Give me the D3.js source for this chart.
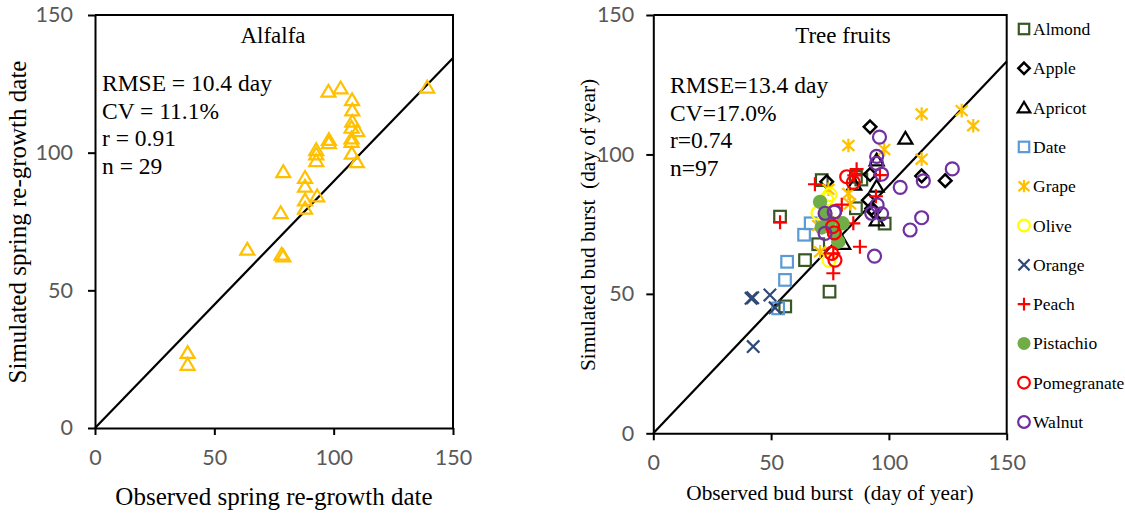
<!DOCTYPE html>
<html>
<head>
<meta charset="utf-8">
<script src="https://cdn.jsdelivr.net/npm/d3@7"></script>
<style>
  body { margin: 0; background: #fff; }
  svg { display: block; }
</style>
</head>
<body>
<svg id="chart" width="1125" height="514"></svg>
<script>
// ---- data --------------------------------------------------------------
const tickValues = [0, 50, 100, 150];

// Alfalfa: [observed, simulated] spring re-growth day
const alfalfa = [
  [97.8,122.3],[102.9,123.5],[139.2,123.8],[107.7,119.2],[107.8,115.5],
  [107.8,111.4],[107.5,109.2],[109.9,108],[107.5,105.3],[107.5,104.1],
  [107.6,99.8],[109.7,96.7],[98,104.8],[98,103.6],[92.7,101.1],
  [92.7,99.5],[92.7,97.1],[78.9,93.1],[88,91],[88,87.8],
  [88,82.8],[88,79.8],[93.1,84.3],[77.8,78.2],[63.8,64.9],
  [78.2,63.1],[78.9,62.5],[38.8,27.4],[38.8,23.1]
];
const alfalfaStats = ["RMSE = 10.4 day", "CV = 11.1%", "r = 0.91", "n = 29"];
const alfalfaLine = [[0, 0], [150, 134.4]];

// Tree fruits: [observed, simulated] bud burst day of year
const fruitNames = ["Almond","Apple","Apricot","Date","Grape","Olive","Orange","Peach","Pistachio","Pomegranate","Walnut"];
const almond = [[53.8,77.7],[71.5,90.8],[86,80.7],[86,92],[88.3,91],[98.2,75.2],[70,67.8],[64.4,62.1],[74.8,50.8],[56,45.5]];
const apple = [[92,109.9],[73.6,90.2],[92,92.8],[113.9,92.3],[123.9,90.6],[91.3,83.6],[92.7,80.6],[93.5,79.5]];
const apricot = [[107,105.8],[94.8,98],[85.3,89.3],[94.8,88.6],[94.8,76.5],[80.6,68.1]];
const date = [[66.8,75.3],[64,71.2],[56.8,61.5],[55.9,55],[53,44.8]];
const grape = [[82.8,103.2],[113.9,114.5],[130.9,115.7],[135.8,110.3],[113.9,98.3],[98,101.8],[74.3,87.5],[82.8,86],[83.5,82.3],[70.8,65.1],[70,74.5]];
const olive = [[75,85.6],[73.5,84],[69.9,79],[74.6,62]];
const orange = [[41.5,48.4],[42.2,48.6],[49.5,49.6],[51.7,45],[42.4,31.1]];
const peach = [[53.8,75.7],[68.6,89.3],[86.3,94.7],[85.3,92.5],[96.2,92.6],[94.5,85],[84.9,75.3],[87.7,66.9],[76.4,57.4],[80,82],[76.4,64.5]];
const pistachio = [[70.8,83],[72.9,78.6],[80.3,75.3],[71.5,73.8],[77.1,71.7],[78.5,68.7],[74.5,76]];
const pomegranate = [[82.1,92],[84.9,90],[77,79.5],[76.1,74.1],[76.8,71.9],[75.7,64.5],[77.1,62.1]];
const walnut = [[96,106.2],[94.8,99.3],[94.8,96.8],[96.9,92.9],[104.8,88.2],[114.6,90.5],[126.9,94.8],[95,81.9],[92.7,78.9],[96.9,78.7],[113.9,77.3],[109,72.9],[93.9,63.5],[72.9,78.9],[76.8,79.3],[72.9,71.7]];
const fruitSeries = [almond, apple, apricot, date, grape, olive, orange, peach, pistachio, pomegranate, walnut];
const fruitStats = ["RMSE=13.4 day", "CV=17.0%", "r=0.74", "n=97"];
const fruitLine = [[0, 0], [150, 133.3]];

// ---- styling -----------------------------------------------------------
const SERIF = "'Liberation Serif','Times New Roman',serif";
const SANS = "Lato,'Open Sans',sans-serif";
const fruitStyle = {
  Almond:      { shape: "square",   color: "#385723" },
  Apple:       { shape: "diamond",  color: "#000000" },
  Apricot:     { shape: "triangle", color: "#000000" },
  Date:        { shape: "square",   color: "#5B9BD5" },
  Grape:       { shape: "star",     color: "#FFC000" },
  Olive:       { shape: "circle",   color: "#FFFF00" },
  Orange:      { shape: "cross",    color: "#2F4A78" },
  Peach:       { shape: "plus",     color: "#FF0000" },
  Pistachio:   { shape: "dot",      color: "#70AD47" },
  Pomegranate: { shape: "circle",   color: "#FF0000" },
  Walnut:      { shape: "circle",   color: "#7030A0" }
};

const svg = d3.select("#chart");

// draw one marker glyph centred on (0,0) inside group g
function marker(g, shape, color, k) {
  const sw = 2.2;
  switch (shape) {
    case "square":
      g.append("rect").attr("x", -5.8 * k).attr("y", -5.8 * k)
        .attr("width", 11.6 * k).attr("height", 11.6 * k)
        .attr("fill", "none").attr("stroke", color).attr("stroke-width", sw);
      break;
    case "diamond":
      g.append("path").attr("d", `M0,${-6.3*k}L${6.3*k},0L0,${6.3*k}L${-6.3*k},0Z`)
        .attr("fill", "none").attr("stroke", color).attr("stroke-width", 2.5);
      break;
    case "triangle":
      g.append("path").attr("d", `M0,${-6.4*k}L${7*k},${5.4*k}L${-7*k},${5.4*k}Z`)
        .attr("fill", "none").attr("stroke", color).attr("stroke-width", sw)
        .attr("stroke-linejoin", "miter");
      break;
    case "star":
      g.append("path").attr("d",
        `M0,${-6.8*k}V${6.8*k}M${-6*k},${-5.4*k}L${6*k},${5.4*k}M${-6*k},${5.4*k}L${6*k},${-5.4*k}`)
        .attr("fill", "none").attr("stroke", color).attr("stroke-width", sw);
      break;
    case "circle":
      g.append("circle").attr("r", 6.5 * k)
        .attr("fill", "none").attr("stroke", color).attr("stroke-width", sw);
      break;
    case "cross":
      g.append("path").attr("d",
        `M${-6.2*k},${-6.2*k}L${6.2*k},${6.2*k}M${-6.2*k},${6.2*k}L${6.2*k},${-6.2*k}`)
        .attr("fill", "none").attr("stroke", color).attr("stroke-width", sw);
      break;
    case "plus":
      g.append("path").attr("d",
        `M${-7*k},0H${7*k}M0,${-7*k}V${7*k}`)
        .attr("fill", "none").attr("stroke", color).attr("stroke-width", sw);
      break;
    case "dot":
      g.append("circle").attr("r", 7.2 * k).attr("fill", color);
      break;
  }
}

// one scatter panel with frame, ticks, 1:1 guide, stats and title
function panel(cfg) {
  const x = d3.scaleLinear().domain([0, 150]).range([cfg.left, cfg.right]);
  const y = d3.scaleLinear().domain([0, 150]).range([cfg.bottom, cfg.top]);
  const g = svg.append("g");

  const xAxis = g.append("g").attr("transform", `translate(0,${cfg.bottom})`)
    .call(d3.axisBottom(x).tickValues(tickValues).tickSize(7).tickSizeOuter(0).tickPadding(cfg.xPad));
  const yAxis = g.append("g").attr("transform", `translate(${cfg.left},0)`)
    .call(d3.axisLeft(y).tickValues(tickValues).tickSize(7).tickSizeOuter(0).tickPadding(cfg.yPad));
  [xAxis, yAxis].forEach(a => {
    a.select(".domain").attr("stroke", "#000").attr("stroke-width", 2);
    a.selectAll(".tick line").attr("stroke", "#000").attr("stroke-width", 2);
    a.selectAll(".tick text").attr("fill", "#595959")
      .style("font-family", SANS).style("font-size", "21.5px");
  });

  // top and right border of the plot box
  g.append("path")
    .attr("d", `M${cfg.left},${cfg.top}H${cfg.right}V${cfg.bottom}`)
    .attr("fill", "none").attr("stroke", "#000").attr("stroke-width", 2);

  // 1:1 guide line
  g.append("path").datum(cfg.guide)
    .attr("d", d3.line().x(d => x(d[0])).y(d => y(d[1])))
    .attr("fill", "none").attr("stroke", "#000").attr("stroke-width", 2.2);

  // scatter series
  cfg.series.forEach(s => {
    s.data.forEach(d => {
      const m = g.append("g").attr("transform", `translate(${x(d[0])},${y(d[1])})`);
      marker(m, s.shape, s.color, 1);
    });
  });

  // panel title
  g.append("text").attr("x", cfg.titleX).attr("y", 43)
    .attr("text-anchor", "middle").style("font-family", SERIF).style("font-size", "23px")
    .text(cfg.title);

  // statistics block
  g.append("g").selectAll("text").data(cfg.stats).join("text")
    .attr("x", cfg.statsX).attr("y", (d, i) => cfg.statsY + i * 27.5)
    .style("font-family", SERIF).style("font-size", "23.5px").text(d => d);

  // axis titles
  g.append("text").attr("x", cfg.xTitle[0]).attr("y", cfg.xTitle[1])
    .attr("text-anchor", "middle").style("font-family", SERIF)
    .style("font-size", cfg.axisFont).style("white-space", "pre").text(cfg.xLabel);
  g.append("text")
    .attr("transform", `translate(${cfg.yTitle[0]},${cfg.yTitle[1]}) rotate(-90)`)
    .attr("text-anchor", "middle").style("font-family", SERIF)
    .style("font-size", cfg.axisFont).style("white-space", "pre").text(cfg.yLabel);
}

panel({
  left: 95, right: 453, top: 15, bottom: 428, xPad: 15, yPad: 15,
  guide: alfalfaLine,
  series: [{ data: alfalfa, shape: "triangle", color: "#FFC000" }],
  title: "Alfalfa", titleX: 273,
  stats: alfalfaStats, statsX: 102, statsY: 91,
  xLabel: "Observed spring re-growth date", xTitle: [274, 505],
  yLabel: "Simulated spring re-growth date", yTitle: [26, 222],
  axisFont: "25px"
});

panel({
  left: 653.3, right: 1006.7, top: 15, bottom: 433.3, xPad: 14, yPad: 12,
  guide: fruitLine,
  series: fruitNames.map((n, i) => ({ data: fruitSeries[i], shape: fruitStyle[n].shape, color: fruitStyle[n].color })),
  title: "Tree fruits", titleX: 843,
  stats: fruitStats, statsX: 670, statsY: 93,
  xLabel: "Observed bud burst  (day of year)", xTitle: [830, 500],
  yLabel: "Simulated bud burst  (day of year)", yTitle: [595, 225],
  axisFont: "21.3px"
});

// legend for the tree-fruit series
const legend = svg.append("g").selectAll("g").data(fruitNames).join("g")
  .attr("transform", (d, i) => `translate(1024,${29 + i * 39.3})`);
legend.each(function (n) {
  marker(d3.select(this), fruitStyle[n].shape, fruitStyle[n].color, 0.9);
});
legend.append("text").attr("x", 9).attr("y", 6)
  .style("font-family", SERIF).style("font-size", "17.5px").text(d => d);
</script>
</body>
</html>
